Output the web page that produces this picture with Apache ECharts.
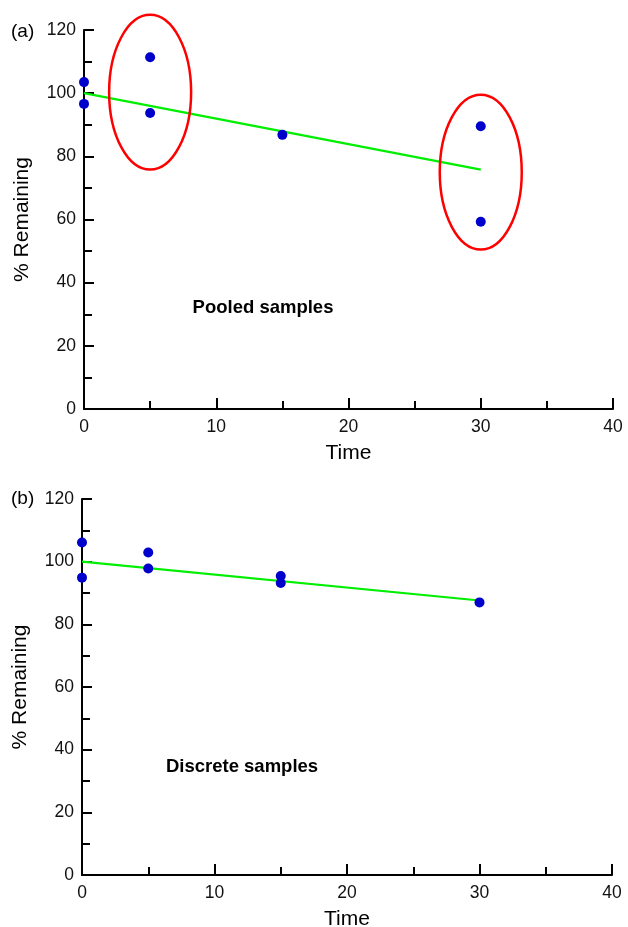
<!DOCTYPE html>
<html>
<head>
<meta charset="utf-8">
<script src="https://cdn.jsdelivr.net/npm/echarts@6/dist/echarts.min.js"></script>
<style>
  html, body { margin: 0; padding: 0; background: #fff; }
  #chart { width: 628px; height: 927px; }
</style>
</head>
<body>
<div id="chart"></div>
<script>
// Panel (a): pooled samples, % remaining over time
const pooledPoints = [[0, 103.5], [0, 96.6], [5, 111.4], [5, 93.7], [15, 86.8], [30, 89.5], [30, 59.3]];
const pooledFit = [[0, 100], [30, 75.8]];
// Highlight rings: [centre time, centre %, half-width (time), half-height (%)]
const pooledRings = [[5, 100.3, 3.1, 24.5], [30, 75.0, 3.1, 24.5]];

// Panel (b): discrete samples
const discretePoints = [[0, 106.1], [0, 94.9], [5, 102.9], [5, 97.8], [15, 95.4], [15, 93.2], [30, 87.0]];
const discreteFit = [[0, 100], [30, 87.6]];

const timeTicks = { min: 0, max: 40, interval: 10 };
const pctTicks = { min: 0, max: 120, interval: 20 };

const FONT = 'Liberation Sans, Arial, sans-serif';
const BLUE = '#0000cc';
const GREEN = '#00ee00';
const RED = '#ff0000';

function xAxis(gridIndex) {
  return {
    type: 'value', gridIndex,
    min: timeTicks.min, max: timeTicks.max, interval: timeTicks.interval,
    name: 'Time', nameLocation: 'middle', nameGap: 34,
    nameTextStyle: { fontFamily: FONT, fontSize: 21, color: '#000' },
    axisLine: { show: true, onZero: false, lineStyle: { color: '#000', width: 2 } },
    axisTick: { show: true, inside: true, length: 11, lineStyle: { color: '#000', width: 2 } },
    minorTick: { show: true, splitNumber: 2, length: 8, lineStyle: { color: '#000', width: 2 } },
    axisLabel: { fontFamily: FONT, fontSize: 17.5, color: '#111', margin: 9 },
    splitLine: { show: false }
  };
}

function yAxis(gridIndex) {
  return {
    type: 'value', gridIndex,
    min: pctTicks.min, max: pctTicks.max, interval: pctTicks.interval,
    name: '% Remaining', nameLocation: 'middle', nameGap: 51,
    nameTextStyle: { fontFamily: FONT, fontSize: 21, color: '#000' },
    axisLine: { show: true, onZero: false, lineStyle: { color: '#000', width: 2 } },
    axisTick: { show: true, inside: true, length: 10, lineStyle: { color: '#000', width: 2 } },
    minorTick: { show: true, splitNumber: 2, length: 8, lineStyle: { color: '#000', width: 2 } },
    axisLabel: { fontFamily: FONT, fontSize: 17.5, color: '#111', margin: 8 },
    splitLine: { show: false }
  };
}

function fitSeries(idx, data) {
  return {
    type: 'line', xAxisIndex: idx, yAxisIndex: idx, data,
    symbol: 'none', lineStyle: { color: GREEN, width: 2.2 }, z: 2, silent: true
  };
}

function pointSeries(idx, data) {
  return {
    type: 'scatter', xAxisIndex: idx, yAxisIndex: idx, data,
    symbol: 'circle', symbolSize: 10, itemStyle: { color: BLUE, opacity: 1 }, z: 3, silent: true
  };
}

const chart = echarts.init(document.getElementById('chart'), null, { renderer: 'canvas' });

chart.setOption({
  backgroundColor: '#fff',
  animation: false,
  grid: [
    { left: 84, right: 15, top: 30, bottom: 518, outerBoundsMode: 'none', containLabel: false },
    { left: 82, right: 16, top: 499, bottom: 52, outerBoundsMode: 'none', containLabel: false }
  ],
  xAxis: [xAxis(0), xAxis(1)],
  yAxis: [yAxis(0), yAxis(1)],
  graphic: [
    { type: 'text', x: 11, y: 32, style: { text: '(a)', font: '19px ' + FONT, fill: '#000', verticalAlign: 'middle' } },
    { type: 'text', x: 11, y: 499, style: { text: '(b)', font: '19px ' + FONT, fill: '#000', verticalAlign: 'middle' } },
    { type: 'text', x: 263, y: 308, style: { text: 'Pooled samples', font: 'bold 18.5px ' + FONT, fill: '#000', align: 'center', verticalAlign: 'middle' } },
    { type: 'text', x: 242, y: 767, style: { text: 'Discrete samples', font: 'bold 18.5px ' + FONT, fill: '#000', align: 'center', verticalAlign: 'middle' } }
  ],
  series: [
    fitSeries(0, pooledFit),
    pointSeries(0, pooledPoints),
    {
      type: 'custom', xAxisIndex: 0, yAxisIndex: 0, data: pooledRings,
      clip: false, silent: true, z: 4,
      encode: { x: 0, y: 1 },
      renderItem: function (params, api) {
        const c = api.coord([api.value(0), api.value(1)]);
        const s = api.size([api.value(2), api.value(3)]);
        return {
          type: 'ellipse',
          shape: { cx: c[0], cy: c[1], rx: s[0], ry: s[1] },
          style: { fill: 'none', stroke: RED, lineWidth: 2.5 }
        };
      }
    },
    fitSeries(1, discreteFit),
    pointSeries(1, discretePoints)
  ]
});
</script>
</body>
</html>
